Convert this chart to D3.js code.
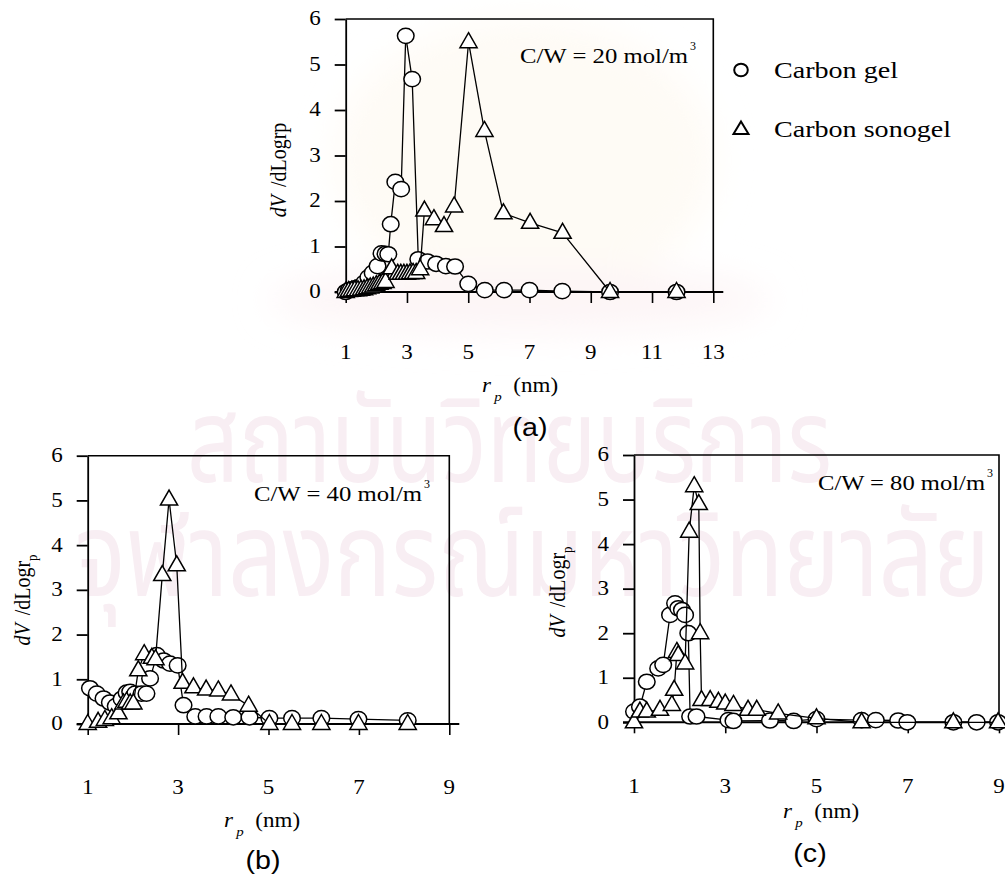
<!DOCTYPE html>
<html>
<head>
<meta charset="utf-8">
<script src="https://cdn.jsdelivr.net/npm/d3@7"></script>
<style>
  body { margin: 0; background: #fff; }
  svg { display: block; }
</style>
</head>
<body>
<svg id="fig" width="1005" height="876"></svg>
<script>
// ---- pore size distributions, dV/dLogrp versus rp (nm) ----
const yTicks = [0, 1, 2, 3, 4, 5, 6];
const xTicksA = [1, 3, 5, 7, 9, 11, 13];
const xTicksBC = [1, 3, 5, 7, 9];

const seriesNames = ["Carbon gel", "Carbon sonogel"];
const panelConc = ["20", "40", "80"];
const panelTags = ["(a)", "(b)", "(c)"];

// C/W = 20 mol/m3
const gelA_r = [1.0, 1.1, 1.2, 1.3, 1.4, 1.5, 1.6, 1.74, 1.88, 2.04, 2.17, 2.3, 2.39, 2.47, 2.62, 2.81, 2.96, 3.17, 3.37, 3.67, 3.95, 4.27, 4.57, 5.0, 5.54, 6.17, 7.0, 8.07, 9.63, 11.8];
const gelA_v = [0, 0.04, 0.06, 0.08, 0.1, 0.12, 0.2, 0.32, 0.42, 0.57, 0.85, 0.84, 0.83, 1.49, 2.42, 2.26, 5.63, 4.68, 0.72, 0.67, 0.62, 0.57, 0.56, 0.18, 0.04, 0.04, 0.04, 0.02, 0, 0];
const sonoA_r = [1.0, 1.1, 1.2, 1.3, 1.4, 1.5, 1.6, 1.7, 1.8, 1.9, 2.0, 2.1, 2.2, 2.3, 2.5, 2.7, 2.8, 2.9, 3.0, 3.1, 3.2, 3.3, 3.43, 3.57, 3.88, 4.21, 4.54, 5.01, 5.53, 6.15, 7.02, 8.08, 9.63, 11.8];
const sonoA_v = [0, 0.02, 0.03, 0.04, 0.04, 0.05, 0.06, 0.08, 0.1, 0.12, 0.15, 0.18, 0.2, 0.22, 0.52, 0.4, 0.4, 0.4, 0.4, 0.41, 0.42, 0.42, 0.5, 1.79, 1.6, 1.45, 1.88, 5.49, 3.54, 1.73, 1.52, 1.3, 0, 0];

// C/W = 40 mol/m3
const gelB_r = [1.05, 1.2, 1.35, 1.49, 1.62, 1.75, 1.86, 1.94, 2.05, 2.19, 2.3, 2.38, 2.53, 2.68, 2.82, 2.99, 3.12, 3.38, 3.63, 3.89, 4.22, 4.58, 5.02, 5.52, 6.17, 6.99, 8.08];
const gelB_v = [0.8, 0.68, 0.57, 0.48, 0.4, 0.56, 0.7, 0.72, 0.68, 0.68, 0.68, 1.02, 1.54, 1.42, 1.35, 1.31, 0.42, 0.17, 0.17, 0.17, 0.15, 0.15, 0.13, 0.13, 0.13, 0.11, 0.08];
const sonoB_r = [1.0, 1.23, 1.38, 1.53, 1.68, 1.79, 1.86, 1.94, 2.01, 2.12, 2.25, 2.42, 2.5, 2.65, 2.8, 2.97, 3.1, 3.34, 3.62, 3.89, 4.17, 4.56, 5.02, 5.52, 6.17, 6.99, 8.08];
const sonoB_v = [0, 0.05, 0.09, 0.13, 0.24, 0.46, 0.5, 0.46, 0.46, 1.2, 1.56, 1.48, 1.45, 3.33, 5.02, 3.55, 0.92, 0.82, 0.77, 0.75, 0.66, 0.41, 0, 0, 0, 0, 0];

// C/W = 80 mol/m3
const gelC_r = [1.0, 1.13, 1.28, 1.53, 1.64, 1.79, 1.9, 1.97, 2.05, 2.12, 2.19, 2.23, 2.37, 3.07, 3.18, 3.98, 4.5, 5.0, 5.99, 6.3, 6.79, 6.99, 8.0, 8.51, 8.98];
const gelC_v = [0.24, 0.35, 0.91, 1.21, 1.29, 2.41, 2.67, 2.56, 2.52, 2.41, 2.0, 0.13, 0.13, 0.05, 0.03, 0.04, 0.03, 0.07, 0.05, 0.05, 0.04, 0, 0, 0, 0];
const sonoC_r = [1.0, 1.13, 1.28, 1.57, 1.83, 1.88, 1.94, 1.97, 2.12, 2.21, 2.32, 2.42, 2.45, 2.48, 2.67, 2.85, 3.0, 3.18, 3.5, 3.69, 4.16, 5.0, 5.99, 8.0, 8.98];
const sonoC_v = [0, 0.24, 0.24, 0.28, 0.39, 0.73, 1.58, 1.51, 1.32, 4.28, 5.3, 4.9, 2.0, 0.5, 0.5, 0.46, 0.42, 0.39, 0.28, 0.28, 0.2, 0.09, 0, 0, 0];

const svg = d3.select("#fig");
const SERIF = "'Liberation Serif', 'Times New Roman', serif";
const SANS = "'Liberation Sans', Arial, sans-serif";
const SX = 1.15; // horizontal glyph stretch used for all lettering

// soft emblem glow and institutional watermark behind the figures
const defs = svg.append("defs");
defs.append("filter").attr("id", "soft").attr("x", "-30%").attr("y", "-30%").attr("width", "160%").attr("height", "160%")
  .append("feGaussianBlur").attr("stdDeviation", 18);
const bg = svg.append("g");
const glow = bg.append("g").attr("filter", "url(#soft)");
glow.append("ellipse").attr("cx", 525).attr("cy", 160).attr("rx", 190).attr("ry", 140).attr("fill", "#fefbf5");
glow.append("ellipse").attr("cx", 520).attr("cy", 300).attr("rx", 250).attr("ry", 32).attr("fill", "#fdf5f6");
const wm = bg.append("g").attr("fill", "#f8eef3").attr("font-family", "'Noto Sans Thai', 'Noto Sans', sans-serif");
wm.append("text").attr("x", 187).attr("y", 482).attr("font-size", 118)
  .attr("textLength", 645).attr("lengthAdjust", "spacingAndGlyphs").text("สถาบันวิทยบริการ");
wm.append("text").attr("x", 75).attr("y", 596).attr("font-size", 118)
  .attr("textLength", 915).attr("lengthAdjust", "spacingAndGlyphs").text("จุฬาลงกรณ์มหาวิทยาลัย");

function zip(rs, vs) { return rs.map((r, i) => ({ r, v: vs[i] })); }

function addText(g, x, y, str, o = {}) {
  const t = g.append("text")
    .attr("transform", `translate(${x},${y}) scale(${o.sx ?? SX},1)`)
    .attr("text-anchor", o.anchor || "middle")
    .attr("font-family", o.family || SERIF)
    .attr("font-size", o.size || 20)
    .attr("fill", "#000");
  if (o.baseline) t.attr("dominant-baseline", o.baseline);
  if (o.italic) t.attr("font-style", "italic");
  if (str !== null) t.text(str);
  return t;
}

function triPath(hw, up, down) {
  return `M0,${-up}L${hw},${down}L${-hw},${down}Z`;
}

function drawPanel(p) {
  const g = svg.append("g");
  const x = d3.scaleLinear().domain(p.xDomain).range([p.left, p.right]);
  const y = d3.scaleLinear().domain([0, 6]).range([p.bottom, p.top]);

  // frame: top and right edges
  g.append("path")
    .attr("d", `M${p.left},${p.top}H${p.right}V${p.bottom}`)
    .attr("fill", "none").attr("stroke", "#000").attr("stroke-width", 1.6);

  // y axis with outward ticks
  const ya = g.append("g").attr("transform", `translate(${p.left},0)`)
    .call(d3.axisLeft(y).tickValues(yTicks).tickSize(11).tickSizeOuter(0).tickFormat(""));
  ya.selectAll("line, path").attr("stroke", "#000").attr("stroke-width", 1.8);

  // x axis with downward ticks; the baseline runs a little past both edges
  const xa = g.append("g").attr("transform", `translate(0,${p.bottom})`)
    .call(d3.axisBottom(x).tickValues(p.xTicks).tickSize(11).tickSizeOuter(0).tickFormat(""));
  xa.selectAll("line").attr("stroke", "#000").attr("stroke-width", 1.6);
  xa.select(".domain").remove();
  g.append("line").attr("x1", p.left - 11).attr("x2", p.right + 10)
    .attr("y1", p.bottom).attr("y2", p.bottom)
    .attr("stroke", "#000").attr("stroke-width", 2);

  // tick labels
  yTicks.forEach(t => addText(g, p.left - 25, y(t), String(t), { anchor: "end", baseline: "central" }));
  p.xTicks.forEach(t => addText(g, x(t), p.xLabelY, String(t), { baseline: "central" }));

  // x title: r_p (nm)
  const xt = addText(g, p.xTitleX, p.xTitleY, null, { anchor: "middle" });
  xt.append("tspan").attr("font-style", "italic").text("r");
  xt.append("tspan").attr("font-style", "italic").attr("font-size", 13).attr("dy", 9).attr("dx", 3).text("p");
  xt.append("tspan").attr("dy", -9).attr("dx", 10).text("(nm)");

  // y title: dV/dLogrp
  const yt = g.append("text")
    .attr("transform", `translate(${p.yTitleX},${p.yTitleY}) rotate(-90) scale(1,${SX})`)
    .attr("text-anchor", "middle").attr("font-family", SERIF).attr("font-size", 20);
  yt.append("tspan").attr("font-style", "italic").text("dV");
  yt.append("tspan").attr("dx", 3).text(" /dLogr");
  if (p.subP) {
    yt.append("tspan").attr("font-size", 13).attr("dy", 6).text("p");
  } else {
    yt.append("tspan").text("p");
  }

  // concentration note
  const ct = g.append("text").attr("font-family", SERIF).attr("font-size", 21).attr("fill", "#000");
  ct.append("tspan").attr("x", p.cwX).attr("y", p.cwY)
    .attr("textLength", p.cwLen).attr("lengthAdjust", "spacingAndGlyphs")
    .text(`C/W = ${p.conc} mol/m`);
  ct.append("tspan").attr("x", p.cwX + p.cwLen + 2).attr("y", p.cwY - 13).attr("font-size", 12).text("3");

  // panel tag
  addText(g, p.tagX, p.tagY, p.tag, { family: SANS, size: 26, baseline: "central", sx: 1.1 });

  const line = d3.line().x(d => x(d.r)).y(d => y(d.v));
  const series = [
    { data: zip(p.gel_r, p.gel_v), shape: "circle" },
    { data: zip(p.sono_r, p.sono_v), shape: "tri" }
  ];
  series.forEach(s => {
    g.append("path").attr("d", line(s.data))
      .attr("fill", "none").attr("stroke", "#000").attr("stroke-width", 1.3).attr("stroke-linejoin", "round");
    const m = g.append("g").selectAll("g").data(s.data).join("g")
      .attr("transform", d => `translate(${x(d.r)},${y(d.v)})`);
    if (s.shape === "circle") {
      m.append("ellipse").attr("rx", 8.3).attr("ry", 7.6)
        .attr("fill", "#fff").attr("stroke", "#000").attr("stroke-width", 1.5);
    } else {
      m.append("path").attr("d", triPath(8.6, 9.5, 5.5))
        .attr("fill", "#fff").attr("stroke", "#000").attr("stroke-width", 1.5).attr("stroke-linejoin", "miter");
    }
  });
}

drawPanel({
  left: 345.7, right: 713.3, top: 19, bottom: 292, xDomain: [1, 13], xTicks: xTicksA,
  xLabelY: 353, xTitleX: 520, xTitleY: 392, yTitleX: 286, yTitleY: 170, subP: false,
  cwX: 520, cwY: 63, cwLen: 168, conc: panelConc[0], tag: panelTags[0], tagX: 530, tagY: 427,
  gel_r: gelA_r, gel_v: gelA_v, sono_r: sonoA_r, sono_v: sonoA_v
});
drawPanel({
  left: 87.7, right: 449.3, top: 455.7, bottom: 724, xDomain: [1, 9], xTicks: xTicksBC,
  xLabelY: 788, xTitleX: 262, xTitleY: 827, yTitleX: 30, yTitleY: 600, subP: true,
  cwX: 254, cwY: 501, cwLen: 168, conc: panelConc[1], tag: panelTags[1], tagX: 263, tagY: 860,
  gel_r: gelB_r, gel_v: gelB_v, sono_r: sonoB_r, sono_v: sonoB_v
});
drawPanel({
  left: 634, right: 999, top: 455, bottom: 722.3, xDomain: [1, 9], xTicks: xTicksBC,
  xLabelY: 787, xTitleX: 821, xTitleY: 818, yTitleX: 565, yTitleY: 592, subP: true,
  cwX: 818, cwY: 490, cwLen: 167, conc: panelConc[2], tag: panelTags[2], tagX: 810, tagY: 853,
  gel_r: gelC_r, gel_v: gelC_v, sono_r: sonoC_r, sono_v: sonoC_v
});

// legend beside panel (a)
const lg = svg.append("g");
lg.append("ellipse").attr("cx", 741).attr("cy", 70).attr("rx", 6.8).attr("ry", 6.3)
  .attr("fill", "#fff").attr("stroke", "#000").attr("stroke-width", 2);
lg.append("path").attr("transform", "translate(741,129)").attr("d", triPath(7.5, 7.5, 5))
  .attr("fill", "#fff").attr("stroke", "#000").attr("stroke-width", 2);
lg.append("text").attr("x", 774).attr("y", 78).attr("font-family", SERIF).attr("font-size", 24)
  .attr("textLength", 124).attr("lengthAdjust", "spacingAndGlyphs").text(seriesNames[0]);
lg.append("text").attr("x", 774).attr("y", 137).attr("font-family", SERIF).attr("font-size", 24)
  .attr("textLength", 177).attr("lengthAdjust", "spacingAndGlyphs").text(seriesNames[1]);
</script>
</body>
</html>
